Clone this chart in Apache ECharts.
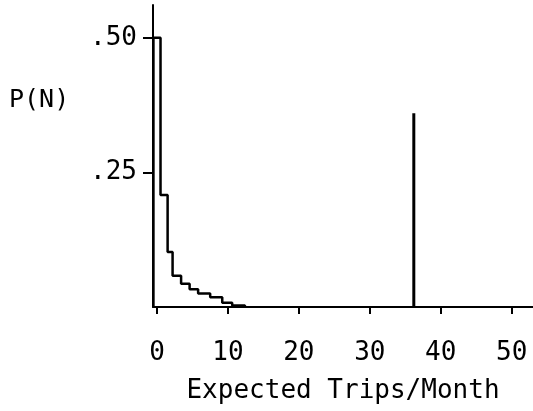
<!DOCTYPE html>
<html>
<head>
<meta charset="utf-8">
<script src="https://cdn.jsdelivr.net/npm/echarts@6/dist/echarts.min.js"></script>
<style>
  html, body { margin: 0; padding: 0; background: #fff; }
  #chart { width: 533px; height: 411px; }
</style>
</head>
<body>
<div id="chart"></div>
<script>
// Histogram of expected trips per month: bin edges and probability per bin
const binEdges = [-0.5, 0.5, 1.5, 2.2, 3.4, 4.6, 5.8, 7.5, 9.2, 10.6, 12.4];
const binProbs = [0.50, 0.208, 0.102, 0.058, 0.043, 0.033, 0.025, 0.018, 0.008, 0.003];

// Isolated mass far out on the trips axis
const spikeTrips = 36.2;
const spikeProb = 0.36;

// Axis tick positions and labels
const xTickValues = [0, 10, 20, 30, 40, 50];
const yTickValues = [0.25, 0.50];
const yTickLabels = ['.25', '.50'];

const FONT = '"DejaVu Sans Mono", monospace';

// Step outline: start at the baseline, one point per bin, close back to zero
const stepData = [[binEdges[0], 0]];
binProbs.forEach((p, i) => stepData.push([binEdges[i], p]));
stepData.push([binEdges[binEdges.length - 1], 0]);

const chart = echarts.init(document.getElementById('chart'), null, { renderer: 'canvas' });

chart.setOption({
  animation: false,
  backgroundColor: '#fff',
  grid: { left: 153, right: 0, top: 5, bottom: 104, containLabel: false },
  xAxis: {
    type: 'value',
    min: -0.56,
    max: 53,
    name: 'Expected Trips/Month',
    nameLocation: 'middle',
    nameGap: 71,
    nameTextStyle: { fontFamily: FONT, fontSize: 26, color: '#000' },
    axisLine: { show: true, onZero: false, lineStyle: { color: '#000', width: 2 } },
    axisTick: { show: true, customValues: xTickValues, length: 7, lineStyle: { color: '#000', width: 2 } },
    axisLabel: { customValues: xTickValues, margin: 33, fontFamily: FONT, fontSize: 26, color: '#000' },
    splitLine: { show: false }
  },
  yAxis: {
    type: 'value',
    min: 0,
    max: 0.561,
    axisLine: { show: true, onZero: false, lineStyle: { color: '#000', width: 2 } },
    axisTick: { show: true, customValues: yTickValues, length: 10, lineStyle: { color: '#000', width: 2 } },
    axisLabel: {
      customValues: yTickValues,
      margin: 16,
      fontFamily: FONT,
      fontSize: 26,
      color: '#000',
      formatter: v => yTickLabels[yTickValues.indexOf(v)] || ''
    },
    splitLine: { show: false }
  },
  graphic: [{
    type: 'text',
    left: 9,
    top: 88,
    style: { text: 'P(N)', font: '25px ' + FONT, fill: '#000' }
  }],
  series: [
    {
      type: 'line',
      step: 'end',
      data: stepData,
      symbol: 'none',
      lineStyle: { color: '#000', width: 2.5 },
      clip: false
    },
    {
      type: 'line',
      data: [[spikeTrips, 0], [spikeTrips, spikeProb]],
      symbol: 'none',
      lineStyle: { color: '#000', width: 3 }
    }
  ]
});
</script>
</body>
</html>
